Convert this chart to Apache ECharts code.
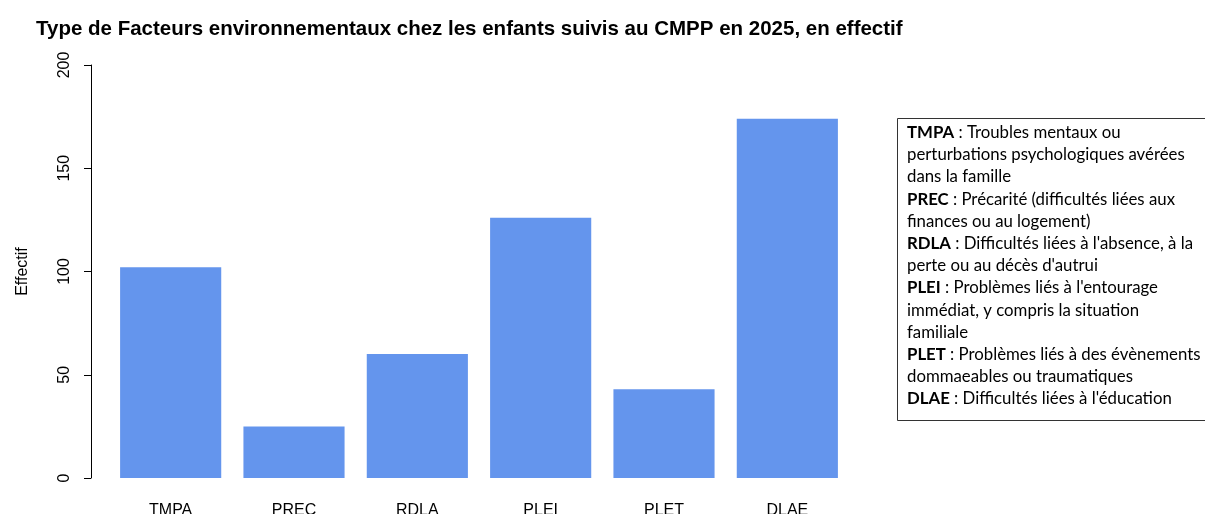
<!DOCTYPE html>
<html>
<head>
<meta charset="utf-8">
<script src="https://cdn.jsdelivr.net/npm/echarts@6/dist/echarts.min.js"></script>
<style>
  html, body { margin: 0; padding: 0; background: #fff; }
  #chart { width: 1205px; height: 514px; }
</style>
</head>
<body>
<div id="chart"></div>
<script>
// données
var categories = ['TMPA', 'PREC', 'RDLA', 'PLEI', 'PLET', 'DLAE']
var effectifs = [102, 25, 60, 126, 43, 174]
var yTicks = { min: 0, max: 200, interval: 50 }

// légende (code : libellé, découpé en lignes)
var legendCodes = ['TMPA', 'PREC', 'RDLA', 'PLEI', 'PLET', 'DLAE']
var legendLines = [
  ['Troubles mentaux ou', 'perturbations psychologiques avérées', 'dans la famille'],
  ['Précarité (difficultés liées aux', 'finances ou au logement)'],
  ["Difficultés liées à l'absence, à la", "perte ou au décès d'autrui"],
  ["Problèmes liés à l'entourage", 'immédiat, y compris la situation', 'familiale'],
  ['Problèmes liés à des évènements', 'dommaeables ou traumatiques'],
  ["Difficultés liées à l'éducation"]
]

var legendText = []
legendCodes.forEach(function(code, i) {
  var lines = legendLines[i]
  legendText.push('{b|' + code + '}{n| : ' + lines[0] + '}')
  for (var j = 1; j < lines.length; j++) {
    legendText.push('{n|' + lines[j] + '}')
  }
})

var chart = echarts.init(document.getElementById('chart'))
chart.setOption({
  animation: false,
  backgroundColor: '#fff',
  title: {
    text: 'Type de Facteurs environnementaux chez les enfants suivis au CMPP en 2025, en effectif',
    left: 31,
    top: 14,
    textStyle: {
      fontFamily: 'Liberation Sans',
      fontSize: 20.5,
      fontWeight: 'bold',
      color: '#000'
    }
  },
  grid: {
    left: 109,
    right: 356,
    top: 65,
    bottom: 36,
    containLabel: false,
    outerBoundsMode: 'none'
  },
  xAxis: {
    type: 'category',
    data: categories,
    axisLine: { show: false },
    axisTick: { show: false },
    axisLabel: {
      margin: 25,
      fontFamily: 'Liberation Sans',
      fontSize: 16,
      color: '#000'
    }
  },
  yAxis: {
    type: 'value',
    min: yTicks.min,
    max: yTicks.max,
    interval: yTicks.interval,
    offset: 18,
    name: 'Effectif',
    nameLocation: 'middle',
    nameRotate: 90,
    nameGap: 60,
    nameTextStyle: {
      fontFamily: 'Liberation Sans',
      fontSize: 16,
      color: '#000'
    },
    axisLine: { show: true, lineStyle: { color: '#000', width: 1 } },
    axisTick: { show: true, length: 7, lineStyle: { color: '#000' } },
    splitLine: { show: false },
    axisLabel: {
      rotate: 90,
      margin: 18,
      fontFamily: 'Liberation Sans',
      fontSize: 16,
      color: '#000'
    }
  },
  series: [{
    type: 'bar',
    data: effectifs,
    barCategoryGap: '18%',
    itemStyle: { color: '#6495ED' }
  }],
  graphic: [{
    type: 'rect',
    left: 897,
    top: 118,
    shape: { width: 330, height: 302 },
    style: { fill: '#fff', stroke: '#333', lineWidth: 1 }
  }, {
    type: 'text',
    left: 907,
    top: 124,
    style: {
      text: legendText.join('\n'),
      rich: {
        b: { fontFamily: 'Lato', fontSize: 16.8, fontWeight: 'bold', color: '#000', lineHeight: 22.2 },
        n: { fontFamily: 'Lato', fontSize: 16.8, color: '#000', lineHeight: 22.2 }
      }
    }
  }]
})
</script>
</body>
</html>
